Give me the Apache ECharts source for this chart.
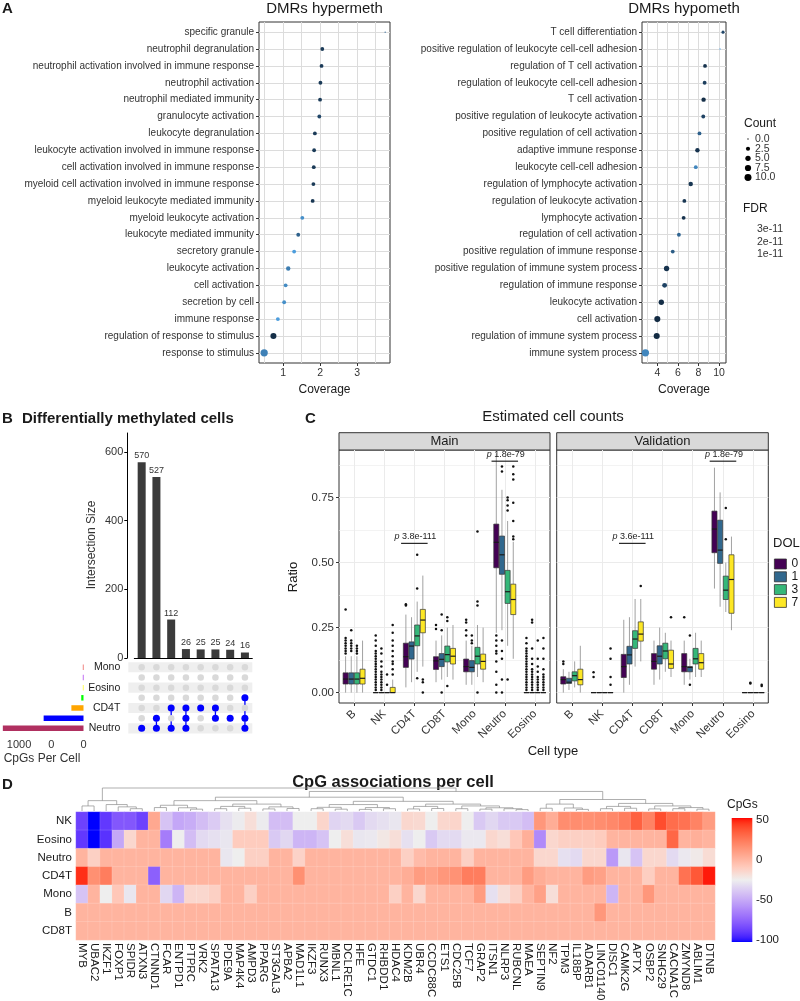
<!DOCTYPE html>
<html>
<head>
<meta charset="utf-8">
<title>Figure</title>
<script src="https://cdn.jsdelivr.net/npm/echarts@6.0.0/dist/echarts.min.js"></script>
<style>
html,body{margin:0;padding:0;background:#ffffff;}
#chart{width:800px;height:1001px;}
</style>
</head>
<body>
<div id="chart"></div>
<script>
// ================= DATA =================
// ---- Panel A ----
const hyperTerms = ['specific granule','neutrophil degranulation','neutrophil activation involved in immune response','neutrophil activation','neutrophil mediated immunity','granulocyte activation','leukocyte degranulation','leukocyte activation involved in immune response','cell activation involved in immune response','myeloid cell activation involved in immune response','myeloid leukocyte mediated immunity','myeloid leukocyte activation','leukocyte mediated immunity','secretory granule','leukocyte activation','cell activation','secretion by cell','immune response','regulation of response to stimulus','response to stimulus'];
const hyperCoverage = [3.76,2.06,2.04,2.01,2.0,1.98,1.86,1.84,1.83,1.82,1.80,1.52,1.41,1.30,1.14,1.07,1.03,0.86,0.74,0.49];
const hyperCount = [0,2,2,2,2,2,2,2,2,2,2,2,2,2,3,2,2,2,7,11];
const hyperFDR = [2.0,0.9,0.9,0.9,0.9,1.2,0.9,0.9,0.9,0.9,0.8,2.8,1.8,3.1,2.4,2.7,2.8,3.1,0.6,2.5]; // x 1e-11

const hypoTerms = ['T cell differentiation','positive regulation of leukocyte cell-cell adhesion','regulation of T cell activation','regulation of leukocyte cell-cell adhesion','T cell activation','positive regulation of leukocyte activation','positive regulation of cell activation','adaptive immune response','leukocyte cell-cell adhesion','regulation of lymphocyte activation','regulation of leukocyte activation','lymphocyte activation','regulation of cell activation','positive regulation of immune response','positive regulation of immune system process','regulation of immune response','leukocyte activation','cell activation','regulation of immune system process','immune system process'];
const hypoCoverage = [10.39,10.1,8.64,8.6,8.5,8.47,8.1,7.9,7.74,7.25,6.63,6.56,6.1,5.5,4.9,4.71,4.39,4.0,3.94,2.84];
const hypoCount = [1,0,2,2,3,2,2,3,2,3,2,2,2,2,5,4,5,7,7,11];
const hypoFDR = [1.2,3.3,0.7,1.0,0.6,1.1,1.8,0.7,2.6,0.8,0.8,0.7,1.9,1.7,0.7,1.1,0.6,0.5,0.5,2.6]; // x 1e-11

const hyperTicks = [1,2,3];
const hyperMinor = [0.5,1.5,2.5,3.5];
const hypoTicks = [4,6,8,10];
const hypoMinor = [3,5,7,9];
const countLegendValues = [0,2.5,5,7.5,10];
const countLegendLabels = ['0.0','2.5','5.0','7.5','10.0'];
const fdrLegendLabels = ['3e-11','2e-11','1e-11'];

// ---- Panel B ----
const setNames = ['Mono','CD8T','Eosino','NK','CD4T','B','Neutro'];
const setSizes = [10,10,10,35,188,618,1251];
const intersectionSets = [['Neutro'],['B','Neutro'],['CD4T','Neutro'],['CD4T','B','Neutro'],['CD4T'],['CD4T','B'],['B'],['NK','B','Neutro']];
const intersectionSizes = [570,527,112,26,25,25,24,16];
const intersectionTicks = [0,200,400,600];
const setSizeTicks = [0,500,1000];
const setSizeTickLabels = ['0','0','1000'];

// ---- Panel C ----
const cellTypes = ['B','NK','CD4T','CD8T','Mono','Neutro','Eosino'];
const dolLevels = ['0','1','3','7'];
const ratioTicks = [0,0.25,0.5,0.75];
const ratioMinor = [0.125,0.375,0.625,0.875];
// boxes: [lower whisker, Q1, median, Q3, upper whisker] per cell type
const mainDOL0 = [[0.0,0.033,0.052,0.076,0.14],[0,0,0,0,0],[0.02,0.097,0.138,0.19,0.30],[0.04,0.089,0.122,0.138,0.2],[0.03,0.08,0.10,0.129,0.2],[0.23,0.48,0.578,0.648,0.92],[0,0,0,0,0]];
const mainDOL1 = [[0.0,0.033,0.052,0.076,0.14],[0,0,0,0,0],[0.04,0.129,0.179,0.195,0.29],[0.05,0.10,0.128,0.15,0.22],[0.03,0.08,0.097,0.123,0.18],[0.24,0.455,0.53,0.602,0.78],[0,0,0,0,0]];
const mainDOL3 = [[0.0,0.033,0.052,0.076,0.14],[0,0,0,0,0],[0.08,0.18,0.218,0.26,0.35],[0.06,0.118,0.146,0.179,0.25],[0.06,0.11,0.14,0.174,0.26],[0.18,0.343,0.388,0.47,0.66],[0,0,0,0,0]];
const mainDOL7 = [[0.0,0.033,0.055,0.09,0.2],[0,0,0,0.02,0.05],[0.1,0.23,0.279,0.32,0.45],[0.05,0.11,0.14,0.17,0.26],[0.04,0.09,0.12,0.148,0.25],[0.13,0.30,0.358,0.417,0.58],[0,0,0,0,0]];
const valDOL0 = [[0.0,0.033,0.05,0.061,0.09],[0,0,0,0,0],[0.0,0.058,0.10,0.147,0.28],[0.03,0.09,0.12,0.15,0.2],[0.03,0.08,0.10,0.15,0.2],[0.40,0.538,0.629,0.698,0.865],[0,0,0,0,0]];
const valDOL1 = [[0.01,0.035,0.04,0.055,0.08],[0,0,0,0,0],[0.03,0.11,0.145,0.178,0.29],[0.05,0.11,0.14,0.18,0.25],[0.05,0.08,0.097,0.10,0.13],[0.33,0.497,0.548,0.663,0.77],[0,0,0,0,0]];
const valDOL3 = [[0.02,0.045,0.065,0.08,0.12],[0,0,0,0,0],[0.1,0.17,0.206,0.238,0.36],[0.08,0.13,0.16,0.19,0.23],[0.06,0.11,0.13,0.17,0.23],[0.31,0.358,0.394,0.448,0.50],[0,0,0,0,0]];
const valDOL7 = [[0.0,0.03,0.05,0.09,0.18],[0,0,0,0,0],[0.12,0.198,0.225,0.272,0.36],[0.06,0.093,0.11,0.163,0.2],[0.06,0.09,0.115,0.15,0.2],[0.24,0.305,0.435,0.53,0.6],[0,0,0,0,0]];
// outliers: [cell type index, ratio]
const mainOut0 = [[0,0.32],[0,0.21],[0,0.2],[0,0.19],[0,0.18],[0,0.17],[0,0.16],[0,0.15],
 [1,0.01],[1,0.02],[1,0.03],[1,0.04],[1,0.05],[1,0.06],[1,0.07],[1,0.08],[1,0.09],[1,0.1],[1,0.11],[1,0.12],[1,0.13],[1,0.14],[1,0.15],[1,0.16],[1,0.18],[1,0.2],[1,0.22],
 [2,0.34],[2,0.335],[3,0.26],[3,0.245],[4,0.28],[4,0.27],[4,0.24],[4,0.22],
 [5,0.22],[5,0.2],[5,0.18],[5,0.16],[5,0.15],[5,0.12],[5,0.08],[5,0.03],[5,0.0],
 [6,0.01],[6,0.02],[6,0.03],[6,0.04],[6,0.05],[6,0.06],[6,0.07],[6,0.08],[6,0.09],[6,0.1],[6,0.11],[6,0.12],[6,0.13],[6,0.14],[6,0.15],[6,0.16],[6,0.17],[6,0.19],[6,0.21]];
const mainOut1 = [[0,0.24],[0,0.2],[0,0.19],[0,0.18],[0,0.17],[0,0.16],
 [1,0.01],[1,0.02],[1,0.03],[1,0.04],[1,0.05],[1,0.06],[1,0.07],[1,0.08],[1,0.1],[1,0.12],[1,0.15],[1,0.17],
 [3,0.3],[3,0.24],[3,0.0],[4,0.22],[4,0.2],[4,0.19],
 [5,0.87],[5,0.85],[5,0.2],[5,0.16],[5,0.13],[5,0.05],[5,0.0],
 [6,0.01],[6,0.02],[6,0.03],[6,0.04],[6,0.05],[6,0.06],[6,0.07],[6,0.08],[6,0.09],[6,0.11],[6,0.13],[6,0.17],[6,0.27],[6,0.28]];
const mainOut3 = [[0,0.18],[0,0.17],[0,0.16],[0,0.15],[1,0.03],[1,0.07],
 [2,0.53],[2,0.4],[2,0.055],[3,0.29],[3,0.275],[3,0.025],[4,0.62],[4,0.35],[4,0.335],[4,0.0],
 [5,0.75],[5,0.74],[5,0.72],[5,0.7],[5,0.05],
 [6,0.01],[6,0.02],[6,0.03],[6,0.04],[6,0.05],[6,0.06],[6,0.08],[6,0.1],[6,0.13],[6,0.2]];
const mainOut7 = [[1,0.07],[1,0.09],[1,0.11],[1,0.12],[1,0.14],[1,0.16],[1,0.18],[1,0.2],[1,0.23],[1,0.26],
 [2,0.05],[2,0.04],[2,0.0],
 [5,0.87],[5,0.84],[5,0.82],[5,0.73],[5,0.66],[5,0.6],[5,0.59],
 [6,0.01],[6,0.02],[6,0.03],[6,0.04],[6,0.05],[6,0.06],[6,0.07],[6,0.09],[6,0.13],[6,0.17],[6,0.21]];
const valOut0 = [[0,0.12],[0,0.11],[1,0.078],[1,0.06],[4,0.29]];
const valOut1 = [[4,0.22],[4,0.03],[6,0.038],[6,0.035]];
const valOut3 = [[5,0.71],[5,0.59]];
const valOut7 = [[1,0.17],[1,0.13],[1,0.06],[1,0.03],[2,0.41],[3,0.29],[6,0.03],[6,0.025]];
// p-value brackets: panel (0 main, 1 validation), cell type index, bracket height, label
const pPanel = [0,0,1,1];
const pCat = [2,5,2,5];
const pY = [0.574,0.89,0.574,0.89];
const pText = ['3.8e-111','1.8e-79','3.6e-111','1.8e-79'];

// ---- Panel D ----
const genes = ['MYB','UBAC2','IKZF1','FOXP1','SPIDR','ATXN3','CTNND1','FCAR','ENTPD1','PTPRC','VRK2','SPATA13','PDE9A','MAP4K4','AMPD3','PPARG','ST3GAL3','APBA2','MAD1L1','IKZF3','RUNX3','MBNL1','DCLRE1C','HFE','GTDC1','RHBDD1','HDAC4','KDM2B','UBR4','CCDC88C','ETS1','CDC25B','TCF7','GRAP2','ITSN1','NLRP3','RUBCNL','MAEA','SEPTIN9','NF2','TPM3','IL18BP','ADARB1','LINC01140','DISC1','CAMK2G','APTX','OSBP2','SNHG29','CACNA1C','ZMYND8','ABLIM1','DTNB'];
const heatCells = ['NK','Eosino','Neutro','CD4T','Mono','B','CD8T'];
const cpgNK     = [-85,-100,-88,-78,-78,-85,5,-40,-50,-48,-42,-37,-30,-26,-18,-26,-42,-42,-25,-25,-14,-34,-32,-38,-32,-30,-28,-15,-16,-25,-15,-14,-25,-38,-33,-38,-38,-42,12,3,16,16,15,16,18,22,32,20,38,28,26,20,10];
const cpgEosino = [-88,-100,-90,-50,-15,0,0,-65,-25,-42,-32,-30,-28,-10,-10,-10,-38,-33,-45,-45,-40,-25,-18,-28,-27,-22,-18,-30,-25,-38,-32,-32,-27,-27,-15,-18,-8,2,-60,-15,-12,-12,-12,-10,0,0,0,0,0,30,0,2,0];
const cpgNeutro = [0,-12,0,0,0,0,0,0,0,0,0,0,-28,-25,-12,-12,0,0,-13,0,0,0,0,0,0,0,0,-12,-3,0,0,0,-12,0,0,0,0,0,-15,-15,-30,-32,-15,-15,-55,-28,-40,-15,-15,-32,-27,-23,-17];
const cpgCD4T   = [45,15,22,0,0,0,-75,0,0,0,0,0,0,0,0,0,0,0,15,0,0,0,0,0,0,0,0,3,10,8,12,14,22,22,0,0,0,10,3,0,0,0,10,8,0,0,0,-11,0,0,26,35,48];
const cpgMono   = [-40,0,-25,-8,-28,0,0,-33,-45,-15,-15,-12,0,0,-12,0,0,0,0,0,0,0,0,0,0,0,-12,0,-15,0,0,0,0,10,-30,-18,-12,0,8,-18,0,0,0,0,-45,0,0,12,0,0,0,0,0];
const cpgB      = [0,0,0,0,0,0,0,0,0,0,0,0,0,0,0,0,0,0,0,0,0,0,0,0,0,0,0,0,0,0,0,0,0,0,0,0,0,0,0,0,0,0,0,12,0,0,0,0,0,0,0,0,0];
const cpgCD8T   = [0,0,0,0,0,0,0,0,0,0,0,0,0,0,0,0,0,0,0,0,0,0,0,0,0,0,0,0,0,0,0,0,0,0,0,0,0,0,0,0,0,0,0,0,0,0,0,0,0,0,0,0,0];
const cpgLegendValues = [50,0,-50,-100];
// column dendrogram (leaf = gene index, ":h" = merge height)
const geneDendrogram = '(((0,1):0.22,(2,(3,(4,5):0.1):0.18):0.28):0.45,(((((6,7):0.15,(8,(9,10):0.08):0.14):0.25,(((11,12):0.1,(13,14):0.12):0.2,((15,16):0.09,(17,18):0.11):0.18):0.3):0.45,((((19,20):0.1,(21,22):0.08):0.16,((23,24):0.07,(25,26):0.1):0.15):0.28,(((27,28):0.09,(29,30):0.11):0.2,((31,32):0.1,((33,34):0.08,(35,(36,37):0.06):0.1):0.14):0.22):0.3):0.42):0.6,(((38,39):0.12,(40,(41,42):0.07):0.13):0.3,(((43,44):0.1,(45,46):0.12):0.2,((47,48):0.09,((49,50):0.1,(51,52):0.08):0.15):0.22):0.33):0.5):0.85):1';

// ================= HELPERS =================
const FONT = "'Liberation Sans', Arial, Helvetica, sans-serif";
function hex2rgb(h){h=h.replace('#','');return [0,2,4].map(i=>parseInt(h.substr(i,2),16));}
function lin(c){c/=255;return c<=0.04045?c/12.92:Math.pow((c+0.055)/1.055,2.4);}
function delin(c){c=c<=0.0031308?12.92*c:1.055*Math.pow(c,1/2.4)-0.055;return Math.max(0,Math.min(255,Math.round(c*255)));}
function rgb2lab(rgb){const [r,g,b]=rgb.map(lin);const x=(0.4124*r+0.3576*g+0.1805*b)/0.95047,y=(0.2126*r+0.7152*g+0.0722*b),z=(0.0193*r+0.1192*g+0.9505*b)/1.08883;const f=t=>t>0.008856?Math.cbrt(t):7.787*t+16/116;const fx=f(x),fy=f(y),fz=f(z);return [116*fy-16,500*(fx-fy),200*(fy-fz)];}
function lab2rgb(lab){const fy=(lab[0]+16)/116,fx=fy+lab[1]/500,fz=fy-lab[2]/200;const fi=t=>t*t*t>0.008856?t*t*t:(t-16/116)/7.787;const x=fi(fx)*0.95047,y=fi(fy),z=fi(fz)*1.08883;const r=3.2406*x-1.5372*y-0.4986*z,g=-0.9689*x+1.8758*y+0.0415*z,b=0.0557*x-0.2040*y+1.0570*z;return 'rgb('+[r,g,b].map(delin).join(',')+')';}
function labRamp(stops,n){const labs=stops.map(s=>[s[0],rgb2lab(hex2rgb(s[1]))]);const out=[];for(let i=0;i<n;i++){const t=i/(n-1);let k=0;while(k<labs.length-2&&t>labs[k+1][0])k++;const a=labs[k],b=labs[k+1];const u=(t-a[0])/(b[0]-a[0]);out.push(lab2rgb([0,1,2].map(j=>a[1][j]+(b[1][j]-a[1][j])*u)));}return out;}
const fdrColors = labRamp([[0,'#132B43'],[1,'#56B1F7']],21);
const heatColors = labRamp([[0,'#0000FF'],[0.5,'#EEEEEE'],[1,'#FF0000']],61);
const dolColors = ['#440154','#31688E','#35B779','#FDE725'];
const setColors = ['#E8423F','#A020F0','#FFFF00','#00FF00','#FFA500','#0000FF','#B03060'];
const sizeFn = c => 1.3 + 1.8*Math.sqrt(c);

function parseNewick(s){let i=0;function node(){if(s[i]==='('){i++;const l=node();i++;const r=node();i++;i++;let j=i;while(i<s.length&&/[0-9.]/.test(s[i]))i++;return {h:parseFloat(s.slice(j,i)),l,r};}let j=i;while(i<s.length&&/[0-9]/.test(s[i]))i++;return {leaf:parseInt(s.slice(j,i),10)};}return node();}
function dendroSegs(node,segs){if(node.leaf!==undefined)return {x:node.leaf,h:0};const L=dendroSegs(node.l,segs),R=dendroSegs(node.r,segs);segs.push([L.x,L.h,L.x,node.h]);segs.push([R.x,R.h,R.x,node.h]);segs.push([L.x,node.h,R.x,node.h]);return {x:(L.x+R.x)/2,h:node.h};}
const dendroData=[];dendroSegs(parseNewick(geneDendrogram),dendroData);

function T(text,x,y,o){o=o||{};return {type:'text',x:x,y:y,rotation:o.rot||0,silent:true,style:{text:text,fontFamily:FONT,fontSize:o.size||12,fontWeight:o.bold?'bold':'normal',fill:o.color||'#1a1a1a',align:o.align||'center',verticalAlign:o.va||'middle'}};}

const idx20 = hyperTerms.map((_,i)=>i);
const GRID_LINE = '#dcdcdc';
const GRID_LINE_C = '#ebebeb';
const NOZERO = {show:false,onZero:false};
function hidden(o){return Object.assign({type:'value',axisLine:NOZERO,axisTick:{show:false},axisLabel:{show:false},splitLine:{show:false}},o);}

// ================= AXES =================
const grids = [
  {left:259,top:22,width:131,height:341,show:true,borderColor:'#333',borderWidth:1,backgroundColor:'rgba(0,0,0,0)'},
  {left:642,top:22,width:84,height:341,show:true,borderColor:'#333',borderWidth:1,backgroundColor:'rgba(0,0,0,0)'},
  {left:134.3,top:433,width:118,height:225},
  {left:134.3,top:662.2,width:118,height:71.2},
  {left:0,top:662.2,width:83.5,height:71.2},
  {left:339,top:450,width:211,height:253,show:true,borderColor:'#333',borderWidth:1,backgroundColor:'rgba(0,0,0,0)'},
  {left:556.7,top:450,width:211.6,height:253,show:true,borderColor:'#333',borderWidth:1,backgroundColor:'rgba(0,0,0,0)'},
  {left:76,top:788,width:639,height:23},
  {left:76,top:812,width:639,height:128}
].map(g=>Object.assign({outerBoundsMode:'none',containLabel:false},g));

const xAxes = [
  // 0 hyper coverage
  {gridIndex:0,type:'value',position:'bottom',min:0.35,max:3.89,axisLine:NOZERO,axisTick:{show:true,length:3,customValues:hyperTicks,lineStyle:{color:'#333'}},axisLabel:{customValues:hyperTicks,fontSize:10.5,color:'#333',margin:5},splitLine:{show:true,lineStyle:{color:GRID_LINE,width:1}}},
  // 1 hyper minor
  hidden({gridIndex:0,position:'top',min:0.35,max:3.89,axisTick:{show:false,customValues:hyperMinor},splitLine:{show:true,lineStyle:{color:GRID_LINE,width:1}}}),
  // 2 hypo coverage
  {gridIndex:1,type:'value',position:'bottom',min:2.51,max:10.68,axisLine:NOZERO,axisTick:{show:true,length:3,customValues:hypoTicks,lineStyle:{color:'#333'}},axisLabel:{customValues:hypoTicks,fontSize:10.5,color:'#333',margin:5},splitLine:{show:true,lineStyle:{color:GRID_LINE,width:1}}},
  // 3 hypo minor
  hidden({gridIndex:1,position:'top',min:2.51,max:10.68,axisTick:{show:false,customValues:hypoMinor},splitLine:{show:true,lineStyle:{color:GRID_LINE,width:1}}}),
  // 4 intersection bars
  {gridIndex:2,type:'category',position:'bottom',data:intersectionSizes.map((_,i)=>String(i)),axisLine:{show:true,onZero:false,lineStyle:{color:'#000',width:1}},axisTick:{show:false},axisLabel:{show:false}},
  // 5 matrix columns
  {gridIndex:3,type:'category',data:intersectionSizes.map((_,i)=>String(i)),axisLine:NOZERO,axisTick:{show:false},axisLabel:{show:false}},
  // 6 set sizes
  {gridIndex:4,type:'value',position:'bottom',inverse:true,min:0,max:1295,axisLine:NOZERO,axisTick:{show:false,customValues:setSizeTicks},axisLabel:{customValues:setSizeTicks,formatter:v=>setSizeTickLabels[setSizeTicks.indexOf(v)],fontSize:11,color:'#333',margin:6},splitLine:{show:false}},
  // 7 main cell types
  {gridIndex:5,type:'category',position:'bottom',data:cellTypes,axisLine:NOZERO,axisTick:{show:true,alignWithLabel:true,length:3,lineStyle:{color:'#333'}},axisLabel:{rotate:45,interval:0,fontSize:11.5,color:'#333',margin:9},splitLine:{show:false}},
  // 8 main vertical grid
  hidden({gridIndex:5,position:'top',min:-0.5,max:6.5,axisTick:{show:false,customValues:cellTypes.map((_,i)=>i)},splitLine:{show:true,lineStyle:{color:GRID_LINE_C,width:1}}}),
  // 9 validation cell types
  {gridIndex:6,type:'category',position:'bottom',data:cellTypes,axisLine:NOZERO,axisTick:{show:true,alignWithLabel:true,length:3,lineStyle:{color:'#333'}},axisLabel:{rotate:45,interval:0,fontSize:11.5,color:'#333',margin:9},splitLine:{show:false}},
  // 10 validation vertical grid
  hidden({gridIndex:6,position:'top',min:-0.5,max:6.5,axisTick:{show:false,customValues:cellTypes.map((_,i)=>i)},splitLine:{show:true,lineStyle:{color:GRID_LINE_C,width:1}}}),
  // 11 dendrogram
  hidden({gridIndex:7,min:-0.5,max:genes.length-0.5}),
  // 12 genes
  {gridIndex:8,type:'category',position:'bottom',data:genes,axisLine:NOZERO,axisTick:{show:false},axisLabel:{rotate:-90,interval:0,fontSize:11.5,color:'#1a1a1a',margin:3},splitLine:{show:false}}
];

const yAxes = [
  // 0 hyper terms
  {gridIndex:0,type:'value',position:'left',inverse:true,min:-0.6,max:19.6,axisLine:NOZERO,axisTick:{show:true,length:3,customValues:idx20,lineStyle:{color:'#333'}},axisLabel:{customValues:idx20,formatter:v=>hyperTerms[Math.round(v)],fontSize:10,color:'#333',margin:5},splitLine:{show:true,lineStyle:{color:GRID_LINE,width:1}}},
  // 1 hypo terms
  {gridIndex:1,type:'value',position:'left',inverse:true,min:-0.6,max:19.6,axisLine:NOZERO,axisTick:{show:true,length:3,customValues:idx20,lineStyle:{color:'#333'}},axisLabel:{customValues:idx20,formatter:v=>hypoTerms[Math.round(v)],fontSize:10,color:'#333',margin:5},splitLine:{show:true,lineStyle:{color:GRID_LINE,width:1}}},
  // 2 intersection size
  {gridIndex:2,type:'value',position:'left',min:0,max:655,offset:7,axisLine:{show:true,onZero:false,lineStyle:{color:'#000',width:1}},axisTick:{show:true,length:3,customValues:intersectionTicks,lineStyle:{color:'#000'}},axisLabel:{customValues:intersectionTicks,fontSize:11,color:'#333',margin:4},splitLine:{show:false}},
  // 3 matrix sets
  {gridIndex:3,type:'category',position:'left',inverse:true,data:setNames,axisLine:NOZERO,axisTick:{show:false},axisLabel:{fontSize:10.5,color:'#1a1a1a',margin:14}},
  // 4 set size bars
  {gridIndex:4,type:'category',inverse:true,data:setNames,axisLine:NOZERO,axisTick:{show:false},axisLabel:{show:false}},
  // 5 main ratio
  {gridIndex:5,type:'value',position:'left',min:-0.04,max:0.933,axisLine:NOZERO,axisTick:{show:true,length:3,customValues:ratioTicks,lineStyle:{color:'#333'}},axisLabel:{customValues:ratioTicks,formatter:v=>v.toFixed(2),fontSize:11.5,color:'#333',margin:5},splitLine:{show:true,lineStyle:{color:GRID_LINE_C,width:1}}},
  // 6 main minor
  hidden({gridIndex:5,position:'right',min:-0.04,max:0.933,axisTick:{show:false,customValues:ratioMinor},splitLine:{show:true,lineStyle:{color:GRID_LINE_C,width:0.6}}}),
  // 7 validation ratio
  hidden({gridIndex:6,position:'left',min:-0.04,max:0.933,axisTick:{show:false,customValues:ratioTicks},splitLine:{show:true,lineStyle:{color:GRID_LINE_C,width:1}}}),
  // 8 validation minor
  hidden({gridIndex:6,position:'right',min:-0.04,max:0.933,axisTick:{show:false,customValues:ratioMinor},splitLine:{show:true,lineStyle:{color:GRID_LINE_C,width:0.6}}}),
  // 9 dendrogram height
  hidden({gridIndex:7,min:0,max:1}),
  // 10 heatmap cells
  {gridIndex:8,type:'category',position:'left',inverse:true,data:heatCells,axisLine:NOZERO,axisTick:{show:false},axisLabel:{fontSize:11.5,color:'#1a1a1a',margin:4}}
];

// ================= RENDERERS =================
function renderBox(params,api){
  const cat=api.value(0),d=api.value(6);
  const band=api.size([1,0])[0];const w=band*0.75/4;
  const cx=api.coord([cat,0])[0]+(d-1.5)*w;
  const Y=v=>api.coord([cat,v])[1];
  const mn=Y(api.value(1)),q1=Y(api.value(2)),md=Y(api.value(3)),q3=Y(api.value(4)),mx=Y(api.value(5));
  const fill=api.visual('color');
  return {type:'group',children:[
    {type:'line',shape:{x1:cx,y1:mx,x2:cx,y2:q3},style:{stroke:'#8a8a8a',lineWidth:0.8}},
    {type:'line',shape:{x1:cx,y1:q1,x2:cx,y2:mn},style:{stroke:'#8a8a8a',lineWidth:0.8}},
    {type:'rect',shape:{x:cx-w/2+0.3,y:q3,width:w-0.6,height:Math.max(q1-q3,0.01)},style:{fill:fill,stroke:'#333',lineWidth:0.7}},
    {type:'line',shape:{x1:cx-w/2+0.3,y1:md,x2:cx+w/2-0.3,y2:md},style:{stroke:'#1a1a1a',lineWidth:1.2}}
  ]};
}
function renderOut(params,api){
  const cat=api.value(0),d=api.value(2);
  const band=api.size([1,0])[0];const w=band*0.75/4;
  const p=api.coord([cat,api.value(1)]);
  return {type:'circle',shape:{cx:p[0]+(d-1.5)*w,cy:p[1],r:1.25},style:{fill:'#111'}};
}
function renderP(params,api){
  const cat=api.value(0),k=api.value(2);
  const band=api.size([1,0])[0];
  const p=api.coord([cat,api.value(1)]);
  const half=band*0.44;
  return {type:'group',children:[
    {type:'line',shape:{x1:p[0]-half,y1:p[1],x2:p[0]+half,y2:p[1]},style:{stroke:'#111',lineWidth:1.1}},
    {type:'text',x:p[0]+1,y:p[1]-2,style:{text:'{i|p} '+pText[k],rich:{i:{fontStyle:'italic',fontSize:9,fontFamily:FONT,fill:'#222'}},fontSize:9,fontFamily:FONT,fill:'#222',align:'center',verticalAlign:'bottom'}}
  ]};
}
function renderLine(params,api){
  const a=api.coord([api.value(0),api.value(1)]),b=api.coord([api.value(2),api.value(3)]);
  return {type:'line',shape:{x1:a[0],y1:a[1],x2:b[0],y2:b[1]},style:{stroke:'#8c8c8c',lineWidth:0.7}};
}

// ================= SERIES =================
const series = [];
series.push({type:'scatter',name:'hyper',xAxisIndex:0,yAxisIndex:0,data:hyperTerms.map((_,i)=>[hyperCoverage[i],i,hyperFDR[i],hyperCount[i]]),symbolSize:v=>sizeFn(v[3]),itemStyle:{opacity:1},silent:true,z:5});
series.push({type:'scatter',name:'hypo',xAxisIndex:2,yAxisIndex:1,data:hypoTerms.map((_,i)=>[hypoCoverage[i],i,hypoFDR[i],hypoCount[i]]),symbolSize:v=>sizeFn(v[3]),itemStyle:{opacity:1},silent:true,z:5});
// Panel B
series.push({type:'bar',name:'isect',xAxisIndex:4,yAxisIndex:2,data:intersectionSizes,barWidth:8,itemStyle:{color:'#3b3b3b'},label:{show:true,position:'top',distance:2,fontSize:9,color:'#333',fontFamily:FONT},silent:true});
series.push({type:'custom',name:'stripes',xAxisIndex:5,yAxisIndex:3,silent:true,data:setNames.map((_,i)=>[0,i]).filter(d=>d[1]%2===0),
  renderItem:(params,api)=>{const cs=params.coordSys;const c=api.coord([0,api.value(1)]);const h=api.size([0,1])[1];return {type:'rect',shape:{x:cs.x-6,y:c[1]-h/2,width:cs.width+6,height:h},style:{fill:'#efefef'}};}});
const allDots=[];intersectionSizes.forEach((_,c)=>setNames.forEach((_,r)=>allDots.push([c,r])));
series.push({type:'scatter',name:'greydots',xAxisIndex:5,yAxisIndex:3,data:allDots,symbolSize:6.5,itemStyle:{color:'#d9d9d9',opacity:1},silent:true});
series.push({type:'custom',name:'links',xAxisIndex:5,yAxisIndex:3,silent:true,
  data:intersectionSets.map((s,c)=>{const rows=s.map(n=>setNames.indexOf(n));return [c,Math.min.apply(null,rows),Math.max.apply(null,rows)];}).filter(d=>d[1]!==d[2]),
  renderItem:(params,api)=>{const a=api.coord([api.value(0),api.value(1)]),b=api.coord([api.value(0),api.value(2)]);return {type:'line',shape:{x1:a[0],y1:a[1],x2:b[0],y2:b[1]},style:{stroke:'#0000FF',lineWidth:1.3}};}});
const blueDots=[];intersectionSets.forEach((s,c)=>s.forEach(n=>blueDots.push([c,setNames.indexOf(n)])));
series.push({type:'scatter',name:'bluedots',xAxisIndex:5,yAxisIndex:3,data:blueDots,symbolSize:7,itemStyle:{color:'#0000FF',opacity:1},silent:true});
series.push({type:'bar',name:'setsizes',xAxisIndex:6,yAxisIndex:4,data:setSizes.map((v,i)=>({value:v,itemStyle:{color:setColors[i]}})),barWidth:5.5,silent:true});
// Panel C boxes
const mainBoxes=[mainDOL0,mainDOL1,mainDOL3,mainDOL7];
const valBoxes=[valDOL0,valDOL1,valDOL3,valDOL7];
[[mainBoxes,7,5],[valBoxes,9,7]].forEach(([boxes,xi,yi])=>{
  boxes.forEach((arr,d)=>{
    series.push({type:'custom',name:dolLevels[d],xAxisIndex:xi,yAxisIndex:yi,silent:true,itemStyle:{color:dolColors[d]},
      data:arr.map((b,i)=>[i,b[0],b[1],b[2],b[3],b[4],d]),renderItem:renderBox,z:3});
  });
});
const mainOuts=[mainOut0,mainOut1,mainOut3,mainOut7];
const valOuts=[valOut0,valOut1,valOut3,valOut7];
[[mainOuts,7,5],[valOuts,9,7]].forEach(([outs,xi,yi])=>{
  const data=[];outs.forEach((arr,d)=>arr.forEach(p=>data.push([p[0],p[1],d])));
  series.push({type:'custom',name:'outliers',xAxisIndex:xi,yAxisIndex:yi,silent:true,data:data,renderItem:renderOut,z:4});
});
[[0,7,5],[1,9,7]].forEach(([panel,xi,yi])=>{
  const data=[];pPanel.forEach((pp,k)=>{if(pp===panel)data.push([pCat[k],pY[k],k]);});
  series.push({type:'custom',name:'pvals',xAxisIndex:xi,yAxisIndex:yi,silent:true,data:data,renderItem:renderP,z:6});
});
// Panel D
series.push({type:'custom',name:'dendro',xAxisIndex:11,yAxisIndex:9,silent:true,data:dendroData,renderItem:renderLine});
const cpgRows=[cpgNK,cpgEosino,cpgNeutro,cpgCD4T,cpgMono,cpgB,cpgCD8T];
const heatData=[];cpgRows.forEach((row,r)=>row.forEach((v,c)=>heatData.push([c,r,v])));
series.push({type:'heatmap',name:'cpg',xAxisIndex:12,yAxisIndex:10,data:heatData,silent:true,itemStyle:{borderColor:'rgba(255,255,255,0.35)',borderWidth:0.4}});
const S_HYPER=0,S_HYPO=1,S_HEAT=series.length-1;

// ================= GRAPHICS (titles, legends, strips) =================
const g=[];
g.push(T('A',2,9,{size:15,bold:true,align:'left'}));
g.push(T('DMRs hypermeth',324.5,9,{size:15}));
g.push(T('DMRs hypometh',684,9,{size:15}));
g.push(T('Coverage',324.5,390,{size:12}));
g.push(T('Coverage',684,390,{size:12}));
g.push(T('Count',744,124,{size:12,align:'left'}));
const countY=[139,148.7,158.3,168,177.5];
countLegendValues.forEach((v,i)=>{g.push({type:'circle',silent:true,shape:{cx:748,cy:countY[i],r:sizeFn(v)/2},style:{fill:'#000'}});g.push(T(countLegendLabels[i],755,countY[i],{size:10.5,align:'left',color:'#333'}));});
g.push(T('FDR',743,209,{size:12,align:'left'}));
fdrLegendLabels.forEach((s,i)=>g.push(T(s,757,229+i*12.7,{size:10.5,align:'left',color:'#333'})));
g.push(T('B',2,419,{size:15,bold:true,align:'left'}));
g.push(T('Differentially methylated cells',22,419,{size:15,bold:true,align:'left'}));
g.push(T('Intersection Size',92,545,{size:12,rot:Math.PI/2,color:'#333'}));
g.push(T('CpGs Per Cell',42,759,{size:12,color:'#333'}));
g.push(T('C',305,419,{size:15,bold:true,align:'left'}));
g.push(T('Estimated cell counts',553,417,{size:15}));
g.push({type:'rect',silent:true,shape:{x:339,y:432.7,width:211,height:17.3},style:{fill:'#d9d9d9',stroke:'#333',lineWidth:1}});
g.push({type:'rect',silent:true,shape:{x:556.7,y:432.7,width:211.6,height:17.3},style:{fill:'#d9d9d9',stroke:'#333',lineWidth:1}});
g.push(T('Main',444.5,441.5,{size:13}));
g.push(T('Validation',662.5,441.5,{size:13}));
g.push(T('Ratio',293,577,{size:13,rot:Math.PI/2}));
g.push(T('Cell type',553,751,{size:13}));
g.push(T('DOL',773,543,{size:13,align:'left'}));
g.push(T('D',2,785,{size:15,bold:true,align:'left'}));
g.push(T('CpG associations per cell',393,782,{size:16.5,bold:true}));
g.push(T('CpGs',727,805,{size:12,align:'left'}));
g.push({type:'rect',silent:true,shape:{x:731.7,y:818,width:20.6,height:124},style:{fill:{type:'linear',x:0,y:0,x2:0,y2:1,colorStops:heatColors.map((c,i)=>({offset:1-i/(heatColors.length-1),color:c})).reverse()}}});
cpgLegendValues.forEach(v=>g.push(T(String(v),756,820+(50-v)*0.8,{size:11.5,align:'left',color:'#1a1a1a'})));

// ================= OPTION =================
const option = {
  animation:false,
  backgroundColor:'#ffffff',
  textStyle:{fontFamily:FONT},
  grid:grids,
  xAxis:xAxes,
  yAxis:yAxes,
  visualMap:[
    {type:'continuous',show:false,seriesIndex:S_HYPER,dimension:2,min:0.5,max:3.5,inRange:{color:fdrColors}},
    {type:'continuous',show:false,seriesIndex:S_HYPO,dimension:2,min:0.5,max:3.5,inRange:{color:fdrColors}},
    {type:'continuous',show:false,seriesIndex:S_HEAT,dimension:2,min:-100,max:50,inRange:{color:heatColors}}
  ],
  legend:{data:dolLevels,orient:'vertical',left:774,top:558,padding:0,itemWidth:12,itemHeight:10,itemGap:0.8,icon:'rect',selectedMode:false,
    itemStyle:{borderColor:'#333',borderWidth:0.8},textStyle:{fontSize:12,color:'#1a1a1a',fontFamily:FONT}},
  graphic:{elements:g},
  series:series
};
const chart = echarts.init(document.getElementById('chart'),null,{renderer:'canvas'});
chart.setOption(option);
</script>
</body>
</html>
